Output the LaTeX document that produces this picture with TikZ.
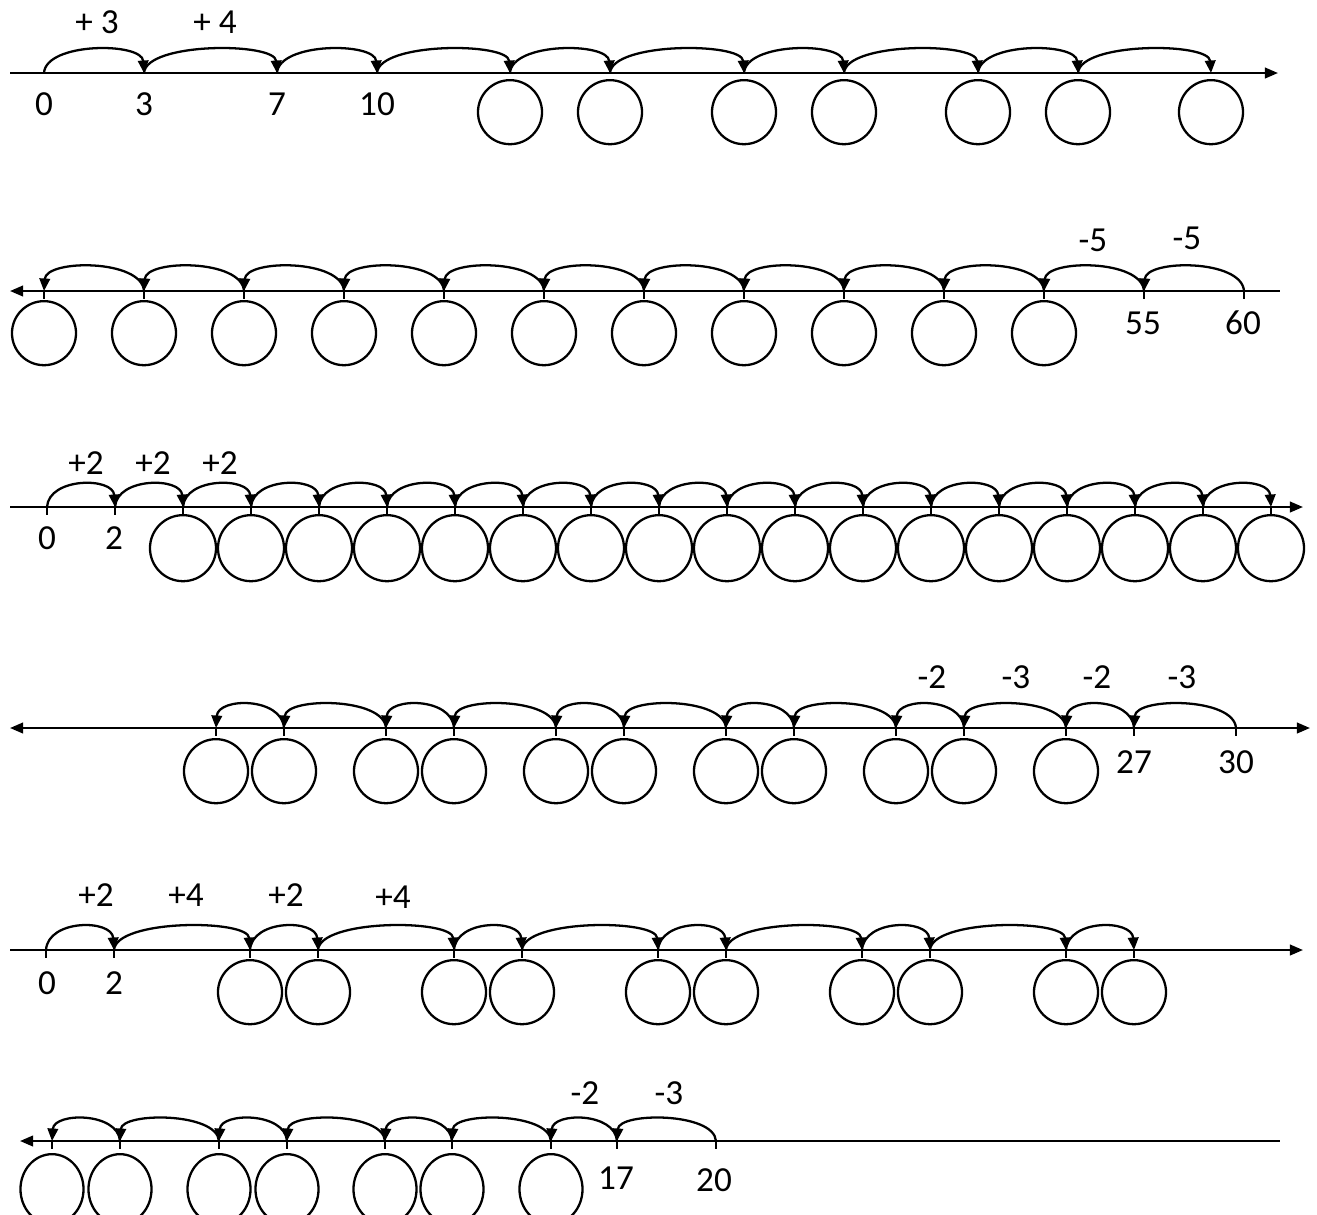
\documentclass[tikz,border=0pt]{standalone}
\usepackage{fontspec}
\setmainfont{Carlito}
\usetikzlibrary{arrows.meta,shapes.geometric,positioning}

\tikzset{
  axis/.style={line width=0.65pt},
  tip/.tip={Triangle[length=1.3mm,width=1.05mm]},
  hop/.style={line width=0.65pt,-{Triangle[length=1.25mm,width=1.05mm]}},
  tickmark/.style={line width=0.65pt},
  blank/.style={draw,line width=0.65pt,circle,minimum size=6.4mm,inner sep=0pt},
  oval/.style={draw,line width=0.65pt,ellipse,minimum width=6.3mm,minimum height=7mm,inner sep=0pt},
  num/.style={font=\fontsize{10}{12}\selectfont,inner sep=0pt}
}

\begin{document}
\begin{tikzpicture}[x=0.01cm,y=-0.01cm]
  \useasboundingbox (0,0) rectangle (1317,1214);

  % row 1: +3, +4, ...
  \coordinate (s1) at (10,73); \coordinate (e1) at (1278,73);
  \draw[axis,-tip] (s1) -- (e1);
  \foreach \x [count=\i] in {44,144,277,377,510,610,744,844,978,1078,1211}
    \coordinate (p1-\i) at (\x,73);
  \foreach \i [evaluate=\i as \j using int(\i+1)] in {1,...,10}
    \draw[hop] (p1-\i) .. controls +(2,-31) and +(-2,-31) .. (p1-\j);
  \foreach \i in {5,...,11}
    \node[blank, below=0.6mm of p1-\i] (c1-\i) {};
  \node[num] (n1-1) at (44,104) {0};
  \node[num] (n1-2) at (144,104) {3};
  \node[num] (n1-3) at (277,104) {7};
  \node[num] (n1-4) at (377,104) {10};
  \node[num] (h1-1) at (97,22) {+ 3};
  \node[num] (h1-2) at (215,22) {+ 4};

  % row 2: -5 from 60
  \coordinate (s2) at (10,291); \coordinate (e2) at (1280,291);
  \draw[axis,tip-] (s2) -- (e2);
  \foreach \i in {1,...,13} {
    \coordinate (p2-\i) at ({44+100*(\i-1)},291);
    \draw[tickmark] (p2-\i) -- +(0,8);
  }
  \foreach \i [evaluate=\i as \j using int(\i+1)] in {1,...,12}
    \draw[hop] (p2-\j) .. controls +(-2,-32) and +(2,-32) .. (p2-\i);
  \foreach \i in {1,...,11}
    \node[blank, below=0.9mm of p2-\i] (c2-\i) {};
  \node[num] (n2-1) at (1143,323) {55};
  \node[num] (n2-2) at (1243,323) {60};
  \node[num] (h2-1) at (1093,240) {-5};
  \node[num] (h2-2) at (1187,238) {-5};

  % row 3: +2
  \coordinate (s3) at (10,507); \coordinate (e3) at (1303,507);
  \draw[axis,-tip] (s3) -- (e3);
  \foreach \i in {1,...,19} {
    \coordinate (p3-\i) at ({47+68*(\i-1)},507);
    \draw[tickmark] (p3-\i) -- +(0,8);
  }
  \foreach \i [evaluate=\i as \j using int(\i+1)] in {1,...,18}
    \draw[hop] (p3-\i) .. controls +(2,-30) and +(-2,-30) .. (p3-\j);
  \foreach \i in {3,...,19}
    \node[blank, minimum size=6.6mm, below=0.7mm of p3-\i] (c3-\i) {};
  \node[num] (n3-1) at (47,538) {0};
  \node[num] (n3-2) at (114,538) {2};
  \node[num] (h3-1) at (86,463) {+2};
  \node[num] (h3-2) at (153,463) {+2};
  \node[num] (h3-3) at (220,463) {+2};

  % row 4: -3, -2 from 30
  \coordinate (s4) at (10,728); \coordinate (e4) at (1310,728);
  \draw[axis,tip-tip] (s4) -- (e4);
  \foreach \x [count=\i] in {216,284,386,454,556,624,726,794,896,964,1066,1134,1236} {
    \coordinate (p4-\i) at (\x,728);
    \draw[tickmark] (p4-\i) -- +(0,8);
  }
  \foreach \i [evaluate=\i as \j using int(\i+1)] in {1,...,12}
    \draw[hop] (p4-\j) .. controls +(-2,-31) and +(2,-31) .. (p4-\i);
  \foreach \i in {1,...,11}
    \node[blank, below=1mm of p4-\i] (c4-\i) {};
  \node[num] (n4-1) at (1134,762) {27};
  \node[num] (n4-2) at (1236,762) {30};
  \node[num] (h4-1) at (932,677) {-2};
  \node[num] (h4-2) at (1016,677) {-3};
  \node[num] (h4-3) at (1097,677) {-2};
  \node[num] (h4-4) at (1182,677) {-3};

  % row 5: +2, +4
  \coordinate (s5) at (10,950); \coordinate (e5) at (1303,950);
  \draw[axis,-tip] (s5) -- (e5);
  \foreach \x [count=\i] in {46,114,250,318,454,522,658,726,862,930,1066,1134} {
    \coordinate (p5-\i) at (\x,950);
    \draw[tickmark] (p5-\i) -- +(0,8);
  }
  \foreach \i [evaluate=\i as \j using int(\i+1)] in {1,...,11}
    \draw[hop] (p5-\i) .. controls +(2,-31) and +(-2,-31) .. (p5-\j);
  \foreach \i in {3,...,12}
    \node[blank, below=0.9mm of p5-\i] (c5-\i) {};
  \node[num] (n5-1) at (47,983) {0};
  \node[num] (n5-2) at (114,983) {2};
  \node[num] (h5-1) at (96,895) {+2};
  \node[num] (h5-2) at (186,895) {+4};
  \node[num] (h5-3) at (286,895) {+2};
  \node[num] (h5-4) at (393,897) {+4};

  % row 6: -3, -2 from 20
  \coordinate (s6) at (20,1141); \coordinate (e6) at (1280,1141);
  \draw[axis,tip-] (s6) -- (e6);
  \foreach \x [count=\i] in {52,120,219,287,385,452,551,617,716} {
    \coordinate (p6-\i) at (\x,1141);
    \draw[tickmark] (p6-\i) -- +(0,8);
  }
  \foreach \i [evaluate=\i as \j using int(\i+1)] in {1,...,8}
    \draw[hop] (p6-\j) .. controls +(-2,-29) and +(2,-29) .. (p6-\i);
  \foreach \i in {1,...,7}
    \node[oval, below=1.2mm of p6-\i] (c6-\i) {};
  \node[num] (n6-1) at (616,1178) {17};
  \node[num] (n6-2) at (714,1180) {20};
  \node[num] (h6-1) at (585,1093) {-2};
  \node[num] (h6-2) at (669,1093) {-3};
\end{tikzpicture}
\end{document}
